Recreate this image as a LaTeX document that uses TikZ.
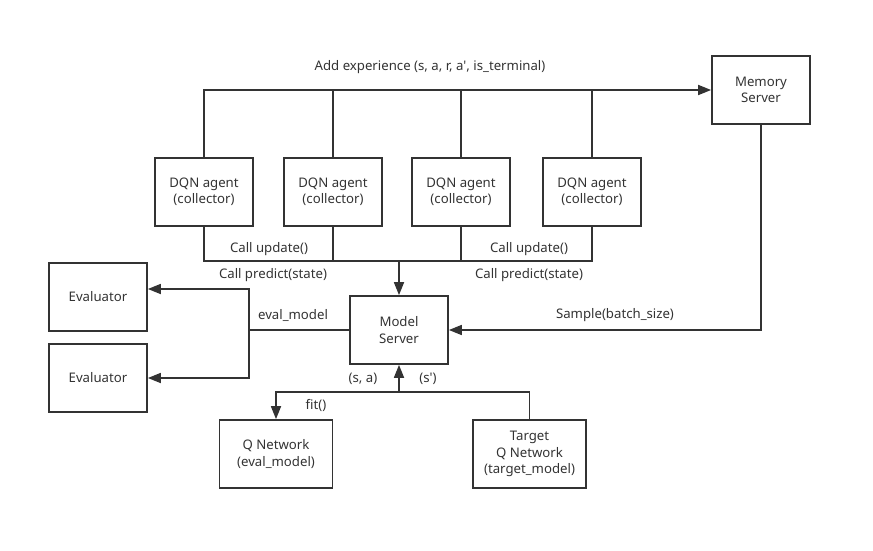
\documentclass[tikz,border=0pt]{standalone}
\usepackage{fontspec}
\setmainfont{Noto Sans}
\usetikzlibrary{arrows.meta,calc}
\definecolor{ink}{HTML}{333333}
\tikzset{
    box/.style={draw=ink, line width=1.7pt, minimum width=98pt, minimum height=68pt,
        align=center, inner sep=2pt, text=ink, font=\fontsize{13.2}{16.5}\selectfont},
    lbl/.style={text=ink, inner sep=0pt, font=\fontsize{13.2}{16.5}\selectfont},
    wire/.style={draw=ink, line width=1.7pt},
    arr/.style={wire, -{Triangle[length=13pt,width=10pt]}}
}

\begin{document}
\begin{tikzpicture}[x=1pt,y=-1pt]
\useasboundingbox (0,0) rectangle (873,551);
\node[box] (M) at (761,90) {Memory\\Server};
\node[box] (A1) at (204,192) {DQN agent\\(collector)};
\node[box] (A2) at (333,192) {DQN agent\\(collector)};
\node[box] (A3) at (461,192) {DQN agent\\(collector)};
\node[box] (A4) at (592,192) {DQN agent\\(collector)};
\node[box] (MS) at (399,330) {Model\\Server};
\node[box] (E1) at (98,297) {Evaluator};
\node[box] (E2) at (98,378) {Evaluator};
\node[box, minimum width=113pt] (QN) at (276,454) {Q Network\\(eval\_model)};
\node[box, minimum width=113pt] (TQ) at (529.5,454) {Target\\Q Network\\(target\_model)};
\coordinate (bus) at (399,261);
\coordinate (EJ) at (249,330);
\coordinate (BJ) at (399,392);
% agents to memory
\draw[arr] (A1.north) |- (M.west);
\draw[wire] (A2.north) -- (A2.north |- M.west);
\draw[wire] (A3.north) -- (A3.north |- M.west);
\draw[wire] (A4.north) -- (A4.north |- M.west);
% agents to model server
\draw[wire] (A1.south) |- (A4.south |- bus) -- (A4.south);
\draw[wire] (A2.south) -- (A2.south |- bus);
\draw[wire] (A3.south) -- (A3.south |- bus);
\draw[arr] (MS.north |- bus) -- (MS.north);
% evaluators
\draw[wire] (MS.west) -- (EJ);
\draw[arr] (EJ) |- ([yshift=8pt]E1.east);
\draw[arr] (EJ) |- (E2.east);
% memory sample
\draw[arr] (M.south) |- (MS.east);
% networks
\draw[arr] (TQ.north) |- (BJ) -- (MS.south);
\draw[arr] (BJ) -| (QN.north);
% labels
\node[lbl] (L1) at (430,67) {Add experience (s, a, r, a\textquotesingle, is\_terminal)};
\node[lbl] (L2) at (269,249) {Call update()};
\node[lbl] (L3) at (529,249) {Call update()};
\node[lbl] (L4) at (273,275) {Call predict(state)};
\node[lbl] (L5) at (529,275) {Call predict(state)};
\node[lbl] (L6) at (293,315) {eval\_model};
\node[lbl] (L7) at (615,315) {Sample(batch\_size)};
\node[lbl] (L8) at (363,379) {(s, a)};
\node[lbl] (L9) at (428,379) {(s\textquotesingle)};
\node[lbl] (L10) at (316,405) {fit()};
\end{tikzpicture}
\end{document}
